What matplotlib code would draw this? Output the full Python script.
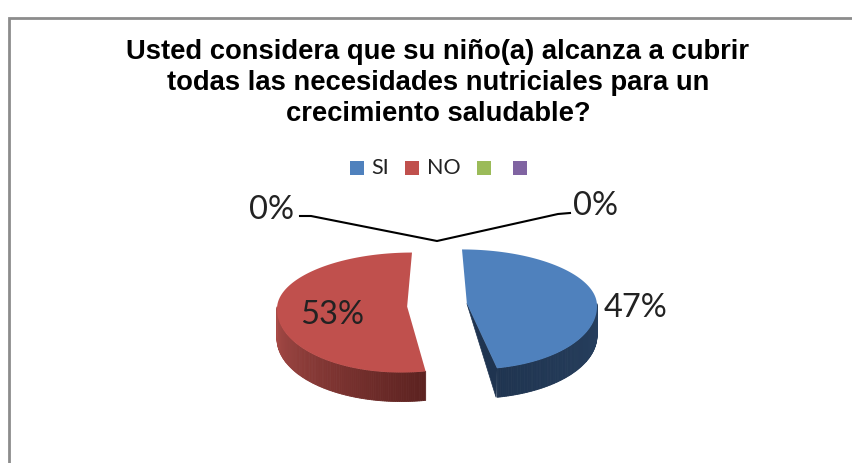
#!/usr/bin/env python3

import matplotlib
matplotlib.use("Agg")
import matplotlib.pyplot as plt
import numpy as np
from matplotlib.colors import to_rgb
from matplotlib.patches import Polygon, Rectangle

categories = ["SI", "NO", "", ""]
values = [47, 53, 0, 0]
colors = ["#4F81BD", "#C0504D", "#9BBB59", "#8064A2"]
side_light = ["#27405F", "#AB4D49", "#9BBB59", "#8064A2"]
side_dark = ["#1F3450", "#5C2220", "#9BBB59", "#8064A2"]
title = ("Usted considera que su niño(a) alcanza a cubrir\n"
         "todas las necesidades nutriciales para un\n"
         "crecimiento saludable?")

# pie geometry, in pixels
cx, cy = 437, 305
rx = 130
b_top, b_bot = 54, 66
depth = 29
explode = 30
shear = [0.09, -0.09]


def arc(angles, ox, oy, k):
    a = np.radians(angles)
    s = np.sin(a)
    y = np.where(s > 0, b_top * s, b_bot * s)
    return np.column_stack([ox + rx * np.cos(a) - k * y, oy - y])


fig = plt.figure(figsize=(8.52, 4.63), dpi=100)
ax = fig.add_axes([0, 0, 1, 1])
ax.set_xlim(0, 852)
ax.set_ylim(463, 0)
ax.axis("off")

# chart border, only top and left are in the crop
ax.plot([8.5, 8.5, 852], [463, 18, 18], color="#8C8C8C", lw=2, solid_joinstyle="miter")

ax.text(438, 83, title, ha="center", va="center", fontsize=19.7, fontweight="bold",
        family="Liberation Sans", linespacing=1.27, color="black")

# legend
leg_x = [350, 405, 477, 513]
txt_x = [371, 427, 0, 0]
for i in range(len(categories)):
    ax.add_patch(Rectangle((leg_x[i], 161), 14, 14, color=colors[i], lw=0))
    if categories[i]:
        ax.text(txt_x[i], 168, categories[i], ha="left", va="center", fontsize=15.5,
                family="Lato", color="#222222")

# slices
shares = np.array(values) / sum(values) * 360
start = 90.0
for i in range(2):
    a0 = start
    a1 = start - shares[i]
    mid = np.radians((a0 + a1) / 2)
    ox = cx + explode * np.cos(mid)
    oy = cy - explode * 0.55 * np.sin(mid)

    ang = np.linspace(a0, a1, 200)
    top = arc(ang, ox, oy, shear[i])

    # cut face of the blue slice
    if i == 0:
        ax.add_patch(Polygon([[ox, oy], top[-1], top[-1] + [-1, depth]],
                             color=side_dark[i], lw=0.5, zorder=2))

    # outer wall, only the front of the arc shows
    front = ang[np.sin(np.radians(ang)) < 0]
    n = len(front)
    for j in range(n - 1):
        pts = arc(front[j:j + 2], ox, oy, shear[i])
        # red goes dark towards the cut, which is the start of its arc
        t = j / n if i == 0 else 1 - j / n
        col = np.array(to_rgb(side_light[i])) * (1 - t) + np.array(to_rgb(side_dark[i])) * t
        ax.add_patch(Polygon([pts[0], pts[1], pts[1] + [0, depth], pts[0] + [0, depth]],
                             facecolor=col, edgecolor=col, lw=0.6, zorder=2))

    ax.add_patch(Polygon(np.vstack([[ox, oy], top]), color=colors[i], lw=0, zorder=3))
    start = a1

# data labels and leader lines for the empty slices
ax.plot([300, 311, 437, 558, 570], [216, 216, 241, 214, 213], color="black", lw=1.5, zorder=4)
lab_x = [604, 300, 249, 573]
lab_y = [308, 315, 210, 206]
for i in range(len(values)):
    ax.text(lab_x[i], lab_y[i], "%d%%" % values[i], ha="left", va="center", fontsize=23.5,
            family="Lato", color="#222222", zorder=5)

plt.savefig("out.png", dpi=100)
plt.close()
